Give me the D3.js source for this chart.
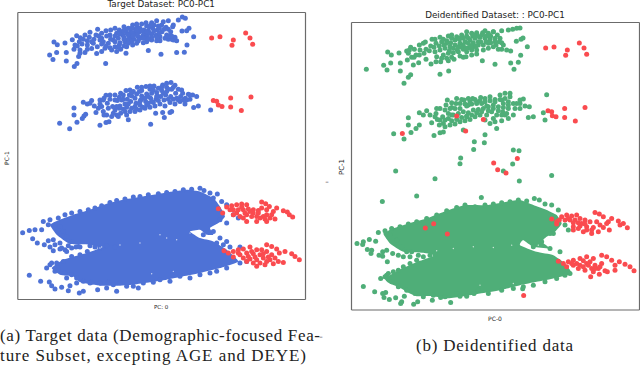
<!DOCTYPE html>
<html>
<head>
<meta charset="utf-8">
<script src="https://cdn.jsdelivr.net/npm/d3@7"></script>
<style>
  html, body { margin: 0; padding: 0; background: #fff; }
  svg { display: block; }
  .axis-label { font-family: "DejaVu Sans", sans-serif; fill: #222; }
  .caption { font-family: "Liberation Serif", serif; font-size: 17px; fill: #222; }
</style>
</head>
<body>
<svg id="chart" width="640" height="366"></svg>
<script>
// all values are read off the picture, in units of 1/3 pixel
// the solid middle of each big lobe is too dense to read single points, so it is kept as an outline

const aBlueTop = [[149,165],[159,179],[170,158],[199,183],[199,158],[223,200],[231,191],[162,126],[172,134],[195,129],[217,119],[230,107],[241,113],[255,105],[270,97],[293,88],[317,191],[222,148],[232,138],[240,150],[236,170],[240,160],[255,158],[275,146],[290,161],[305,155],[315,145],[335,150],[350,155],[378,160],[445,152],[483,163],[530,158],[553,157],[561,135],[581,110],[546,93],[560,92],[567,85],[520,75],[518,80],[505,62],[535,60],[547,51],[556,55],[530,122],[505,118],[520,120],[246,132],[262,122],[268,112],[282,118],[296,108],[305,100],[318,92],[330,105],[345,85],[358,90],[372,80],[385,85],[398,75],[412,82],[425,72],[440,78],[455,68],[470,62],[485,75],[498,82],[512,95],[525,112],[262,135],[280,130],[292,140],[310,125],[325,130],[340,120],[355,115],[368,105],[380,100],[392,95],[405,100],[418,95],[432,90],[445,92],[458,85],[472,90],[486,95],[500,105],[515,118],[360,128],[375,125],[390,115],[402,118],[415,110],[428,108],[442,108],[455,102],[468,105],[480,110],[440,125],[455,120],[470,122],[430,128],[410,130],[398,135],[380,140],[362,148],[345,140],[330,143],[318,138],[305,115],[350,100],[365,95],[378,90],[392,108],[406,88],[420,85],[432,100],[447,80],[462,75],[475,78],[345,108],[358,102],[372,112],[385,105],[398,98],[410,92],[420,115],[435,115],[448,98],[462,92],[478,100],[492,88],[505,88],[515,108],[470,112],[455,112],[440,95],[425,92],[412,105],[400,108],[385,118],[372,118],[358,135],[345,125],[332,118],[320,108],[305,132],[288,105],[275,125],[250,118],[238,125],[225,135],[395,125],[415,122],[430,115],[445,118],[480,122],[495,115],[505,108],[385,130],[372,138],[355,142],[478,85],[490,65],[452,75],[438,68],[410,72],[395,85],[372,92],[332,90],[300,120],[262,148]];
const aBlueMid = [[179,370],[209,387],[231,367],[222,324],[222,345],[247,356],[252,348],[257,343],[300,376],[318,368],[327,366],[385,360],[452,373],[493,353],[467,340],[488,338],[510,338],[515,335],[595,318],[581,323],[632,330],[578,285],[565,283],[590,290],[250,307],[262,312],[275,302],[283,318],[288,338],[300,300],[305,320],[310,335],[318,286],[322,310],[330,298],[338,320],[345,285],[352,302],[362,280],[370,298],[378,272],[388,285],[400,275],[412,262],[425,272],[438,260],[450,268],[462,258],[475,265],[488,255],[500,262],[513,248],[525,256],[535,268],[548,280],[556,295],[570,298],[320,345],[335,350],[350,345],[362,340],[375,335],[390,335],[405,335],[420,330],[435,325],[450,322],[465,318],[480,312],[495,318],[510,308],[525,312],[540,305],[555,312],[360,318],[375,312],[392,305],[408,310],[422,300],[437,305],[452,295],[468,298],[482,290],[497,285],[512,290],[527,280],[542,290],[395,288],[410,282],[425,288],[440,282],[455,280],[470,278],[485,272],[500,275],[515,268],[345,330],[358,325],[380,322],[405,320],[420,315],[440,315],[310,300],[295,325],[270,310],[300,312],[312,295],[330,285],[345,300],[358,292],[370,285],[382,298],[395,278],[405,295],[418,275],[430,295],[445,290],[460,270],[472,288],[490,280],[505,268],[520,262],[530,295],[545,270],[560,300],[380,345],[395,325],[410,328],[428,322],[445,310],[460,308],[475,302],[492,300],[505,298],[520,298],[535,300],[350,320],[370,328],[385,312],[325,325],[312,345],[340,340],[355,350],[365,300],[420,305],[435,295],[455,305],[470,290],[500,250],[485,262],[450,258],[425,262],[390,270],[550,300],[570,285]];
const aRedTop = [[635,114],[660,110],[700,120],[696,136],[737,99],[750,114],[758,133]];
const aRedMid = [[640,302],[650,304],[655,315],[666,320],[692,294],[692,321],[753,291],[724,332]];

const aBlueLow = [[68,699],[88,692],[105,690],[125,690],[98,717],[112,730],[133,735],[145,723],[150,742],[160,720],[165,735],[160,753],[180,730],[185,745],[195,750],[205,738],[215,745],[235,740],[88,827],[122,845],[148,847],[155,858],[165,868],[185,863],[210,858],[205,873],[238,880],[250,875],[293,870],[320,865],[350,875],[340,855],[380,860],[415,865],[140,805],[150,795],[165,815],[200,835],[230,850],[270,850],[130,665],[150,660],[175,655],[195,645],[215,640],[240,635],[265,630],[285,625],[305,618],[330,608],[350,602],[375,598],[400,592],[420,590],[445,585],[475,582],[500,578],[525,575],[550,570],[575,568],[600,565],[612,572],[630,580],[652,583],[640,595],[665,605],[680,615],[660,660],[700,645],[715,655],[680,670],[640,695],[660,715],[610,705],[680,725],[650,730],[670,735],[690,742],[720,742],[700,780],[720,790],[740,785],[680,805],[650,815],[630,820],[600,825],[570,835],[540,830],[510,845],[480,840],[460,848],[430,850],[400,860],[145,675],[165,675],[180,680],[190,695],[200,710],[215,725],[228,742],[200,755],[180,748],[240,742],[270,738],[285,742],[300,745],[320,738],[345,742],[155,790],[170,790],[190,785],[215,770],[240,765],[262,755],[175,810],[195,820],[215,825],[230,835],[250,845],[275,848],[300,850],[325,848],[360,850]];
const aBlueOutline = [[150,675],[180,660],[220,645],[270,630],[320,612],[380,598],[440,588],[500,578],[560,570],[600,575],[640,595],[660,620],[675,650],[655,670],[630,685],[640,705],[620,705],[600,690],[570,695],[600,715],[640,725],[680,750],[715,785],[660,805],[600,820],[550,830],[500,840],[450,848],[400,855],[350,858],[300,858],[240,848],[220,830],[180,825],[155,805],[190,780],[260,760],[300,745],[270,735],[210,733],[170,705]];
const aRedLow = [[655,627],[668,640],[680,622],[695,618],[710,615],[725,613],[740,615],[700,630],[715,630],[730,630],[745,628],[760,630],[775,632],[785,607],[797,612],[808,620],[830,625],[850,633],[862,637],[878,652],[868,645],[820,635],[800,630],[700,645],[720,650],[740,645],[755,650],[770,650],[790,650],[810,655],[825,658],[740,665],[770,665],[800,665],[775,640],[800,645],[760,640],[735,640],[672,753],[685,760],[700,755],[715,750],[730,748],[750,742],[770,750],[800,735],[815,740],[830,748],[855,755],[875,762],[885,770],[898,780],[838,760],[700,772],[720,765],[740,760],[760,762],[780,765],[800,755],[815,765],[730,775],[750,778],[770,780],[790,775],[810,780],[825,775],[850,788],[770,800],[795,795],[820,792],[760,790],[740,785],[780,790],[690,630],[725,622],[710,640],[785,625],[815,645],[780,655],[750,635],[730,655],[795,658],[715,760],[745,770],[765,772],[790,762],[805,772],[835,785],[800,785],[755,755],[785,750]];
const aSpecks = [[305,742],[360,736],[420,730],[480,705],[500,715],[530,720],[570,700],[455,822],[520,815],[300,745]];

const bGreenTop = [[139,208],[191,196],[201,210],[212,189],[241,213],[241,189],[252,250],[265,232],[272,224],[203,156],[214,165],[237,159],[260,153],[272,142],[283,148],[298,135],[316,126],[336,118],[360,112],[385,108],[360,223],[386,213],[487,182],[525,193],[572,189],[595,187],[582,208],[602,166],[622,140],[589,124],[603,118],[609,114],[565,90],[578,88],[590,85],[600,84],[545,92],[520,95],[265,160],[275,172],[262,180],[280,195],[296,188],[318,178],[333,192],[348,185],[362,185],[380,175],[395,172],[420,168],[430,172],[300,150],[318,148],[332,138],[348,130],[365,125],[380,122],[395,115],[410,110],[425,105],[440,108],[455,100],[470,98],[488,98],[505,100],[520,95],[532,105],[545,128],[560,150],[572,153],[345,155],[360,150],[375,145],[390,140],[405,135],[420,130],[435,125],[450,120],[465,115],[480,112],[495,115],[510,118],[525,125],[350,170],[370,165],[385,160],[400,158],[415,155],[430,148],[445,143],[460,140],[475,135],[490,135],[505,130],[520,140],[535,148],[545,148],[415,140],[430,135],[445,130],[460,128],[475,125],[440,155],[455,150],[470,150],[490,150],[505,145],[380,130],[392,128],[405,120],[418,118],[430,115],[445,115],[458,108],[472,108],[485,105],[498,108],[512,108],[525,115],[538,125],[550,135],[400,145],[412,150],[425,142],[438,145],[452,138],[468,138],[482,125],[498,125],[512,128],[528,135],[388,152],[372,135],[358,138],[342,142],[328,152],[312,160],[298,165],[282,172],[268,150],[288,165],[310,130],[345,118],[370,118],[395,105],[420,115],[440,95],[462,105],[495,92],[510,108],[540,115],[470,162],[455,165],[438,170],[402,178],[385,182],[365,175]];
const bGreenMid = [[680,284],[670,338],[675,360],[640,350],[625,352],[221,401],[252,417],[273,397],[288,385],[298,375],[265,353],[265,375],[342,406],[360,398],[370,396],[430,390],[495,404],[463,425],[493,428],[461,448],[422,474],[420,491],[580,450],[597,452],[578,492],[550,513],[227,513],[345,536],[598,543],[695,526],[290,588],[187,604],[484,592],[298,338],[310,345],[320,332],[330,345],[335,368],[348,340],[352,358],[360,325],[368,350],[378,315],[385,340],[395,322],[408,310],[420,325],[432,300],[445,315],[458,295],[470,310],[482,292],[495,305],[510,290],[525,298],[540,285],[555,280],[570,290],[590,310],[610,297],[628,320],[600,325],[580,345],[565,355],[545,362],[530,385],[510,370],[525,365],[358,375],[375,380],[390,375],[405,372],[420,365],[435,362],[450,358],[465,350],[480,345],[500,345],[515,335],[530,345],[548,335],[565,325],[400,345],[415,340],[430,335],[445,338],[460,330],[475,328],[490,325],[505,320],[520,315],[535,320],[550,310],[565,305],[440,318],[455,312],[470,305],[485,310],[500,318],[545,300],[580,310],[360,360],[375,360],[385,355],[395,362],[410,358],[425,352],[440,350],[455,345],[470,338],[485,335],[505,332],[520,325],[535,332],[550,322],[565,315],[375,330],[390,325],[405,325],[420,310],[435,312],[450,305],[465,298],[480,302],[495,295],[510,302],[525,305],[540,298],[555,295],[570,280],[585,325],[600,310],[440,348],[350,325],[345,350],[382,300],[395,308],[410,295],[425,298],[445,295],[560,340],[545,345],[520,355],[495,360],[370,370],[395,345],[600,300],[615,318],[555,345]];
const bRedTop = [[677,144],[702,141],[742,150],[737,166],[778,129],[792,144],[800,163]];
const bRedMid = [[684,332],[695,335],[697,347],[708,350],[734,325],[734,352],[795,322],[766,363],[410,348],[490,358],[437,393],[247,400],[521,489],[592,475],[533,509],[558,519],[316,684],[341,671],[382,702],[611,886]];

const bGreenLow = [[111,730],[130,725],[148,718],[167,723],[128,733],[142,748],[155,750],[153,760],[177,765],[188,755],[200,750],[188,768],[202,785],[218,760],[235,765],[250,770],[270,770],[130,859],[164,875],[197,877],[188,880],[192,892],[208,898],[227,893],[253,888],[245,905],[242,910],[281,912],[293,905],[337,900],[392,907],[362,892],[410,880],[440,888],[462,880],[182,835],[200,825],[175,697],[195,692],[215,685],[240,680],[265,672],[290,665],[320,655],[350,645],[380,632],[410,622],[435,615],[465,620],[495,615],[520,612],[545,608],[570,605],[595,600],[620,603],[643,595],[658,600],[675,612],[695,615],[715,630],[735,675],[745,690],[700,700],[690,700],[665,725],[690,745],[720,755],[640,740],[608,866],[580,865],[545,870],[505,880],[475,870],[750,820],[735,825],[710,835],[675,845],[640,855],[610,860],[210,705],[230,720],[245,740],[260,755],[275,755],[295,765],[310,770],[330,765],[345,762],[205,820],[220,815],[235,810],[250,800],[270,790],[290,780],[195,830],[215,845],[235,860],[260,870],[285,880],[310,890],[340,885],[375,890],[420,888]];
const bGreenOutline = [[190,700],[220,685],[265,670],[320,655],[380,632],[435,615],[500,615],[560,605],[600,600],[640,615],[680,630],[710,645],[725,670],[705,695],[680,710],[665,725],[690,745],[640,740],[610,720],[600,735],[650,755],[700,765],[735,790],[755,820],[700,835],[650,845],[600,855],[540,870],[480,880],[420,890],[380,895],[340,888],[290,888],[265,878],[240,863],[205,848],[195,835],[240,808],[300,782],[345,765],[310,758],[250,755],[210,730]];
const bRedLow = [[695,657],[710,665],[725,650],[740,645],[755,648],[770,645],[718,660],[735,660],[750,660],[765,660],[780,655],[795,660],[825,637],[838,642],[850,650],[875,655],[895,663],[910,670],[922,683],[900,675],[865,665],[810,665],[710,672],[760,680],[780,678],[800,680],[820,682],[840,675],[860,670],[760,690],[790,695],[815,700],[835,695],[868,690],[850,682],[785,670],[715,783],[730,790],[745,785],[760,780],[780,775],[800,770],[820,775],[845,765],[860,770],[875,780],[898,785],[915,792],[930,800],[942,812],[885,795],[740,800],[760,795],[780,795],[800,790],[825,795],[845,790],[775,805],[795,810],[815,805],[835,805],[855,812],[885,810],[812,830],[838,822],[862,815],[820,815],[745,655],[760,668],[775,668],[795,672],[815,690],[800,690],[775,685],[830,665],[755,790],[770,790],[790,800],[805,795],[825,805],[840,800],[810,785],[790,782]];
const bSpecks = [[350,752],[400,745],[460,740],[520,742],[575,735],[655,735],[480,855],[580,850]];

const panelA = {
  left: 17.3, right: 305, top: 12, bottom: 299,
  domainX: [52, 915], domainY: [36, 898],
  title: 'Target Dataset: PC0-PC1', titleY: 7, titleSize: 8.8,
  xLabel: 'PC: 0', xLabelY: 309, xSize: 5.5, yLabelX: 9, yLabelY: 158, ySize: 6,
  color: '#4e72d6', outline: aBlueOutline, specks: aSpecks,
  main: [aBlueTop, aBlueMid, aBlueLow], red: [aRedTop, aRedMid, aRedLow]
};
const panelB = {
  left: 351, right: 639, top: 22, bottom: 309.5,
  domainX: [93, 957], domainY: [66, 928],
  title: 'Deidentified Dataset: : PC0-PC1', titleY: 18, titleSize: 8.8,
  xLabel: 'PC-0', xLabelY: 321, xSize: 6, yLabelX: 344, yLabelY: 167, ySize: 7,
  color: '#4fae78', outline: bGreenOutline, specks: bSpecks,
  main: [bGreenTop, bGreenMid, bGreenLow], red: [bRedTop, bRedMid, bRedLow]
};

const redColor = '#fa4b4f';
const dotRadius = 2.5;
const svg = d3.select('#chart');

function drawPanel(p) {
  const g = svg.append('g');
  const x = d3.scaleLinear().domain(p.domainX).range([p.left, p.right]);
  const y = d3.scaleLinear().domain(p.domainY).range([p.top, p.bottom]);

  // dense middle
  const line = d3.line().x(d => x(d[0])).y(d => y(d[1])).curve(d3.curveCardinalClosed.tension(0.6));
  g.append('path')
    .attr('d', line(p.outline))
    .attr('fill', p.color);

  // main points
  g.append('g').selectAll('circle')
    .data(p.main.flat())
    .enter()
    .append('circle')
    .attr('cx', d => x(d[0]))
    .attr('cy', d => y(d[1]))
    .attr('r', dotRadius)
    .attr('fill', p.color);

  // small holes in the mass
  g.append('g').selectAll('circle')
    .data(p.specks)
    .enter()
    .append('circle')
    .attr('cx', d => x(d[0]))
    .attr('cy', d => y(d[1]))
    .attr('r', 0.7)
    .attr('fill', '#fff')
    .attr('opacity', 0.7);

  // red points on top
  g.append('g').selectAll('circle')
    .data(p.red.flat())
    .enter()
    .append('circle')
    .attr('cx', d => x(d[0]))
    .attr('cy', d => y(d[1]))
    .attr('r', dotRadius)
    .attr('fill', redColor);

  // frame, no ticks
  const frame = [
    [d3.axisBottom(x), `translate(0,${p.bottom})`],
    [d3.axisTop(x), `translate(0,${p.top})`],
    [d3.axisLeft(y), `translate(${p.left},0)`],
    [d3.axisRight(y), `translate(${p.right},0)`]
  ];
  frame.forEach(([axis, transform]) => {
    g.append('g')
      .attr('transform', transform)
      .call(axis.tickValues([]).tickSizeOuter(0))
      .select('.domain')
      .attr('stroke', '#6b6b6b')
      .attr('stroke-width', 1.2);
  });

  g.append('text')
    .attr('class', 'axis-label')
    .attr('x', (p.left + p.right) / 2)
    .attr('y', p.titleY)
    .attr('text-anchor', 'middle')
    .attr('font-size', p.titleSize)
    .text(p.title);

  g.append('text')
    .attr('class', 'axis-label')
    .attr('x', (p.left + p.right) / 2)
    .attr('y', p.xLabelY)
    .attr('text-anchor', 'middle')
    .attr('font-size', p.xSize)
    .text(p.xLabel);

  g.append('text')
    .attr('class', 'axis-label')
    .attr('transform', `translate(${p.yLabelX},${p.yLabelY}) rotate(-90)`)
    .attr('text-anchor', 'middle')
    .attr('font-size', p.ySize)
    .text('PC-1');
}

drawPanel(panelA);
drawPanel(panelB);

// captions, stretched to the width of the original lines
const captions = [
  ['(a) Target data (Demographic-focused Fea-', 0, 341, 'start', 320],
  ['ture Subset, excepting AGE and DEYE)', 0, 361, 'start', 306],
  ['(b) Deidentified data', 416, 351, 'start', 157]
];
svg.selectAll('.caption')
  .data(captions)
  .enter()
  .append('text')
  .attr('class', 'caption')
  .attr('x', d => d[1])
  .attr('y', d => d[2])
  .attr('text-anchor', d => d[3])
  .attr('textLength', d => d[4])
  .attr('lengthAdjust', 'spacing')
  .text(d => d[0]);

// stray marks beside the right panel
svg.selectAll('.stray')
  .data([[327, 184], [321, 339]])
  .enter()
  .append('text')
  .attr('class', 'axis-label stray')
  .attr('x', d => d[0])
  .attr('y', d => d[1])
  .attr('text-anchor', 'middle')
  .attr('font-size', 7)
  .text('–');
</script>
</body>
</html>
